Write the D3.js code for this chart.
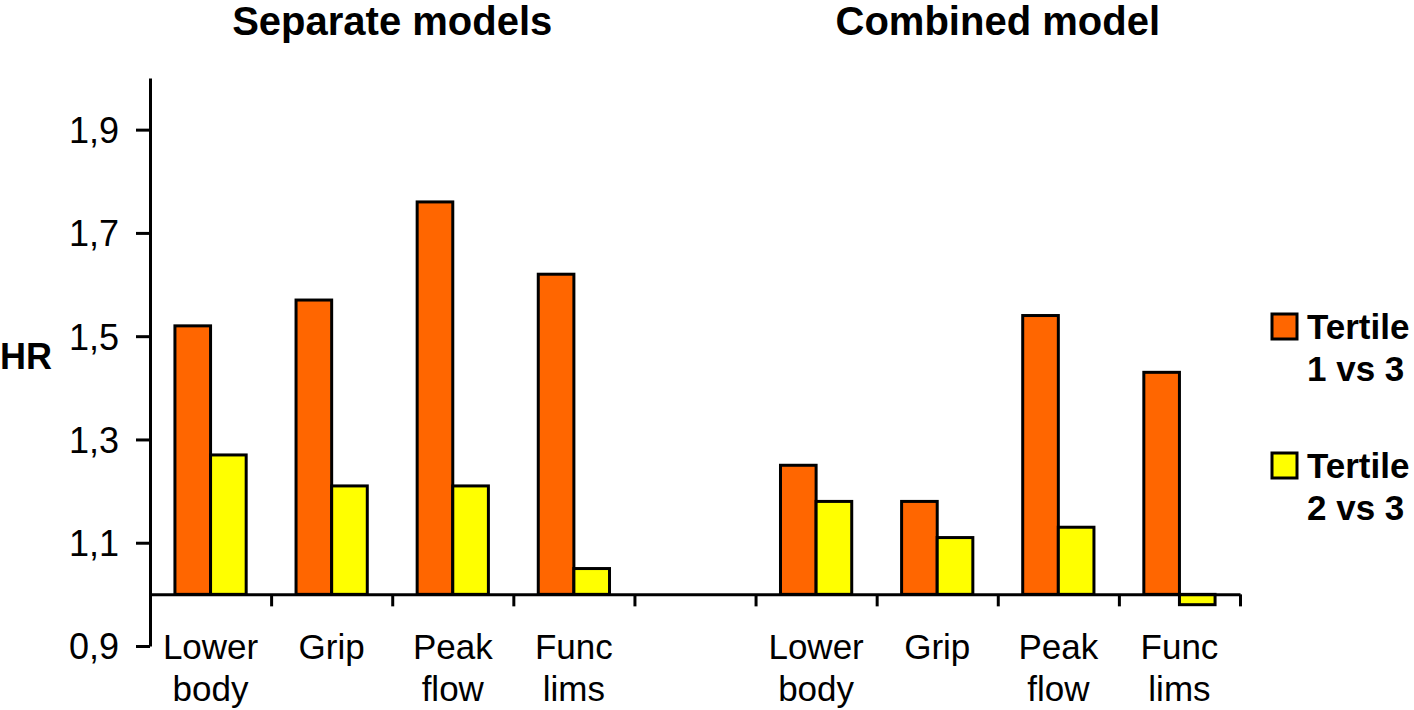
<!DOCTYPE html>
<html>
<head>
<meta charset="utf-8">
<script src="https://cdn.jsdelivr.net/npm/d3@7"></script>
<style>
  html, body { margin: 0; padding: 0; background: #fff; }
  svg { display: block; }
  text { font-family: "Liberation Sans", Arial, Helvetica, sans-serif; fill: #000; }
</style>
</head>
<body>
<svg id="chart" width="1414" height="710"></svg>
<script>
// ---- data ----
const categories = ["Lower body", "Grip", "Peak flow", "Func lims"];
const panels = ["Separate models", "Combined model"];
const seriesNames = ["Tertile 1 vs 3", "Tertile 2 vs 3"];
const separateTertile1 = [1.52, 1.57, 1.76, 1.62];
const separateTertile2 = [1.27, 1.21, 1.21, 1.05];
const combinedTertile1 = [1.25, 1.18, 1.54, 1.43];
const combinedTertile2 = [1.18, 1.11, 1.13, 0.98];
const yTicks = [0.9, 1.1, 1.3, 1.5, 1.7, 1.9];
const baselineValue = 1.0;

(function () {
// ---- build slots: 4 separate, a gap, 4 combined ----
const slots = [];
categories.forEach((c, i) => slots.push({ key: "s" + i, label: c, panel: 0, v: [separateTertile1[i], separateTertile2[i]] }));
slots.push({ key: "gap", label: "", panel: -1, v: null });
categories.forEach((c, i) => slots.push({ key: "c" + i, label: c, panel: 1, v: [combinedTertile1[i], combinedTertile2[i]] }));

const svg = d3.select("#chart");
const mLeft = 150, mRight = 1240, mTop = 78, mBottom = 646;

const x0 = d3.scaleBand().domain(slots.map(d => d.key)).range([mLeft, mRight]).padding(0);
const x1 = d3.scaleBand().domain([0, 1]).range([0, x0.bandwidth()]).paddingInner(0).paddingOuter(0.7);
const y = d3.scaleLinear().domain([0.9, 2.0]).range([mBottom, mTop]);
const colors = ["#FF6600", "#FFFF00"];

// bars
const g = svg.append("g");
slots.filter(d => d.v).forEach(s => {
  s.v.forEach((v, j) => {
    const y0 = y(baselineValue), y1 = y(v);
    g.append("rect")
      .attr("x", x0(s.key) + x1(j))
      .attr("y", Math.min(y0, y1))
      .attr("width", x1.bandwidth())
      .attr("height", Math.abs(y0 - y1))
      .attr("fill", colors[j])
      .attr("stroke", "#000")
      .attr("stroke-width", 3);
  });
});

// y axis
const yAxis = svg.append("g")
  .attr("transform", `translate(${mLeft},0)`)
  .call(d3.axisLeft(y).tickValues(yTicks).tickSize(14).tickSizeOuter(0)
    .tickFormat(d => d3.format(".1f")(d).replace(".", ",")).tickPadding(17));
yAxis.select(".domain").attr("stroke", "#000").attr("stroke-width", 3);
yAxis.selectAll(".tick line").attr("stroke", "#000").attr("stroke-width", 3);
yAxis.selectAll(".tick text").attr("font-size", 36).style("font-family", '"Liberation Sans", Arial, sans-serif').attr("dy", "0.36em");

// x axis at baseline, ticks at slot boundaries
const xi = d3.scaleLinear().domain([0, slots.length]).range([mLeft, mRight]);
const xAxis = svg.append("g")
  .attr("transform", `translate(0,${y(baselineValue)})`)
  .call(d3.axisBottom(xi).tickValues(d3.range(1, slots.length + 1)).tickSize(12).tickSizeOuter(0).tickFormat(""));
xAxis.select(".domain").attr("stroke", "#000").attr("stroke-width", 3);
xAxis.selectAll(".tick line").attr("stroke", "#000").attr("stroke-width", 3);

// category labels
slots.filter(d => d.label).forEach(s => {
  const cx = x0(s.key) + x0.bandwidth() / 2;
  const words = s.label.split(" ");
  words.forEach((w, k) => {
    svg.append("text")
      .attr("x", cx).attr("y", 659 + k * 42)
      .attr("text-anchor", "middle")
      .attr("font-size", 35)
      .text(w);
  });
});

// panel titles
panels.forEach((p, i) => {
  const keys = slots.filter(s => s.panel === i).map(s => s.key);
  const cx = (x0(keys[0]) + x0(keys[keys.length - 1]) + x0.bandwidth()) / 2;
  svg.append("text")
    .attr("x", cx).attr("y", 35)
    .attr("text-anchor", "middle")
    .attr("font-size", 40).attr("font-weight", "bold")
    .text(p);
});

// HR label
svg.append("text").attr("x", 0).attr("y", 369)
  .attr("font-size", 36).attr("font-weight", "bold").text("HR");

// legend
const legendY = [314, 453];
seriesNames.forEach((name, i) => {
  svg.append("rect")
    .attr("x", 1272).attr("y", legendY[i]).attr("width", 25).attr("height", 25)
    .attr("fill", colors[i]).attr("stroke", "#000").attr("stroke-width", 3);
  const parts = name.split(" ");
  svg.append("text").attr("x", 1307).attr("y", legendY[i] + 25)
    .attr("font-size", 35).attr("font-weight", "bold").text(parts[0]);
  svg.append("text").attr("x", 1307).attr("y", legendY[i] + 67)
    .attr("font-size", 35).attr("font-weight", "bold").text(parts.slice(1).join(" "));
});
})();
</script>
</body>
</html>
